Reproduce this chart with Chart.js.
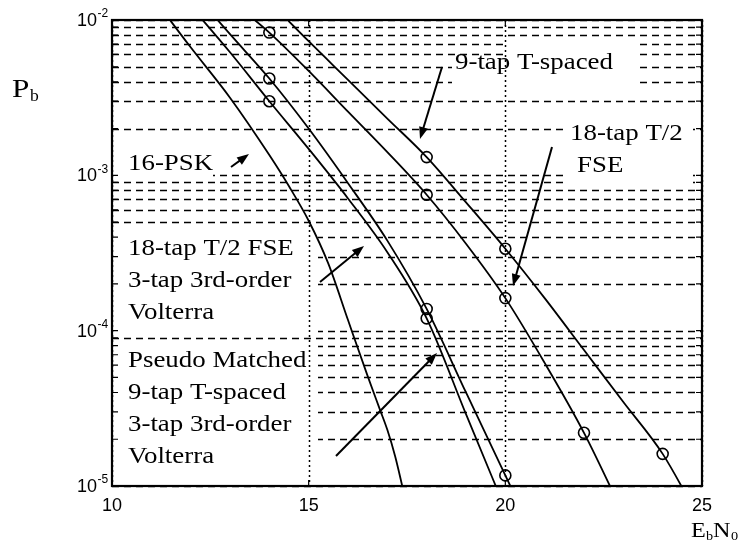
<!DOCTYPE html>
<html>
<head>
<meta charset="utf-8">
<script src="https://cdn.jsdelivr.net/npm/chart.js@4"></script>
<style>
  html, body { margin: 0; padding: 0; background: #fff; }
  #wrap { width: 751px; height: 549px; }
</style>
</head>
<body>
<div id="wrap"><canvas id="berChart" width="751" height="549"></canvas></div>
<script>
// Bit error probability vs Eb/N0 (dB)
const ebn0Psk = [11.3, 11.5, 12, 13, 14, 14.5, 15, 15.5, 16, 16.5, 16.8, 17, 17.2, 17.4];
const pbPsk = [1.15e-2, 9.8e-3, 6.67e-3, 3.16e-3, 1.35e-3, 8.5e-4, 5.1e-4, 2.7e-4, 1.17e-4, 5.1e-5, 3.16e-5, 2.3e-5, 1.55e-5, 9.5e-6];

const ebn0Pseudo = [12, 13, 14, 15, 16, 17, 18, 19, 20];
const pbPseudo = [1.23e-2, 6.2e-3, 3.0e-3, 1.48e-3, 7.1e-4, 3.2e-4, 1.2e-4, 2.9e-5, 7.1e-6];

const ebn0Volterra = [12, 13, 14, 15, 16, 17, 18, 19, 20, 20.3];
const pbVolterra = [1.58e-2, 8.1e-3, 4.2e-3, 2.0e-3, 8.9e-4, 3.8e-4, 1.38e-4, 4.0e-5, 1.17e-5, 8.1e-6];

const ebn0Fse = [13.3, 14, 15, 16, 17, 18, 19, 20, 21, 22, 23];
const pbFse = [1.17e-2, 8.3e-3, 4.7e-3, 2.57e-3, 1.41e-3, 7.5e-4, 3.63e-4, 1.62e-4, 6.2e-5, 2.2e-5, 6.6e-6];

const ebn0TSpaced = [14.2, 15, 16, 17, 18, 19, 20, 21, 22, 23, 24, 24.8];
const pbTSpaced = [1.17e-2, 7.3e-3, 4.12e-3, 2.32e-3, 1.31e-3, 6.7e-4, 3.37e-4, 1.62e-4, 7.5e-5, 3.47e-5, 1.61e-5, 7.1e-6];

// simulated points (circles)
const simPseudoX = [14, 18];
const simPseudoY = [3.0e-3, 1.2e-4];
const simVolterraX = [14, 18, 20];
const simVolterraY = [4.2e-3, 1.38e-4, 1.17e-5];
const simFseX = [14, 18, 20, 22];
const simFseY = [8.3e-3, 7.5e-4, 1.62e-4, 2.2e-5];
const simTSpacedX = [18, 20, 24];
const simTSpacedY = [1.31e-3, 3.37e-4, 1.61e-5];

// axes
const xTicks = [10, 15, 20, 25];
const yDecades = [1e-5, 1e-4, 1e-3, 1e-2];
const yExponents = ['-5', '-4', '-3', '-2'];
const yMantissas = [1, 2, 3, 4, 5, 6, 7, 8, 9];

const yGrid = [];
yDecades.forEach((d, i) => {
  if (i === yDecades.length - 1) { yGrid.push(d); return; }
  yMantissas.forEach(m => yGrid.push(m * d));
});

const toPts = (xs, ys) => xs.map((x, i) => ({ x: x, y: ys[i] }));

const curve = (xs, ys) => ({
  data: toPts(xs, ys),
  borderColor: '#000',
  borderWidth: 1.8,
  pointRadius: 0,
  cubicInterpolationMode: 'monotone',
  fill: false
});

const marks = (xs, ys) => ({
  data: toPts(xs, ys),
  showLine: false,
  pointRadius: 5.5,
  pointBorderWidth: 1.6,
  pointBorderColor: '#000',
  pointBackgroundColor: 'rgba(0,0,0,0)',
  clip: false
});

// white backgrounds behind the text labels (x, y, w, h)
const labelBoxes = [
  [113, 150, 100, 30],
  [113, 228, 205, 106],
  [113, 341, 205, 134],
  [505, 40, 130, 20],
  [452, 60, 183, 30],
  [567, 118, 126, 68]
];

const labelFont = '"Liberation Serif", "Times New Roman", serif';

// text blocks: [text, x, centre y]
const labelLines = [
  ['16-PSK', 128, 162],
  ['18-tap T/2 FSE', 128, 247],
  ['3-tap 3rd-order', 128, 279],
  ['Volterra', 128, 311],
  ['Pseudo Matched', 128, 359],
  ['9-tap T-spaced', 128, 391],
  ['3-tap 3rd-order', 128, 423],
  ['Volterra', 128, 455],
  ['9-tap T-spaced', 455, 61],
  ['18-tap T/2', 570, 132],
  ['FSE', 577, 164]
];

// arrows: [x1, y1, x2, y2]
const arrows = [
  [231, 167, 249, 154],
  [320, 282, 364, 246],
  [336, 456, 437, 353],
  [442, 67, 420, 139],
  [552, 147, 513, 286]
];

function stretchText(ctx, text, x, y, size, stretch, family) {
  ctx.save();
  ctx.translate(x, y);
  ctx.scale(stretch, 1);
  ctx.font = size + 'px ' + family;
  ctx.fillText(text, 0, 0);
  ctx.restore();
}

function drawArrow(ctx, x1, y1, x2, y2) {
  const a = Math.atan2(y2 - y1, x2 - x1);
  const len = 12, half = 4.5;
  const c = Math.cos(a), s = Math.sin(a);
  ctx.beginPath();
  ctx.moveTo(x1, y1);
  ctx.lineTo(x2 - c * len * 0.7, y2 - s * len * 0.7);
  ctx.stroke();
  ctx.beginPath();
  ctx.moveTo(x2, y2);
  ctx.lineTo(x2 - len * c + half * s, y2 - len * s - half * c);
  ctx.lineTo(x2 - len * c - half * s, y2 - len * s + half * c);
  ctx.closePath();
  ctx.fill();
}

const paperLayout = {
  id: 'paperLayout',
  beforeDatasetsDraw(chart) {
    const ctx = chart.ctx;
    const area = chart.chartArea;
    const xs = chart.scales.x;
    const ys = chart.scales.y;
    ctx.save();
    ctx.strokeStyle = '#000';

    // dashed horizontal grid on every decade subdivision
    ctx.lineWidth = 1.6;
    ctx.setLineDash([7, 5]);
    yGrid.forEach(v => {
      const py = Math.round(ys.getPixelForValue(v)) + 0.5;
      ctx.beginPath();
      ctx.moveTo(area.left, py);
      ctx.lineTo(area.right, py);
      ctx.stroke();
    });

    ctx.setLineDash([]);
    ctx.fillStyle = '#fff';
    labelBoxes.forEach(b => ctx.fillRect(b[0], b[1], b[2], b[3]));

    // dotted vertical grid
    ctx.lineWidth = 1.5;
    ctx.setLineDash([2, 3]);
    xTicks.forEach(v => {
      const px = Math.round(xs.getPixelForValue(v)) + 0.5;
      ctx.beginPath();
      ctx.moveTo(px, area.top);
      ctx.lineTo(px, area.bottom);
      ctx.stroke();
    });
    ctx.restore();
  },
  afterDatasetsDraw(chart) {
    const ctx = chart.ctx;
    const area = chart.chartArea;
    const xs = chart.scales.x;
    const ys = chart.scales.y;
    ctx.save();
    ctx.strokeStyle = '#000';
    ctx.fillStyle = '#000';

    // inward ticks
    ctx.lineWidth = 1.2;
    yGrid.forEach(v => {
      const py = ys.getPixelForValue(v);
      ctx.beginPath();
      ctx.moveTo(area.left, py); ctx.lineTo(area.left + 6, py);
      ctx.moveTo(area.right, py); ctx.lineTo(area.right - 6, py);
      ctx.stroke();
    });
    xTicks.forEach(v => {
      const px = xs.getPixelForValue(v);
      ctx.beginPath();
      ctx.moveTo(px, area.bottom); ctx.lineTo(px, area.bottom - 6);
      ctx.moveTo(px, area.top); ctx.lineTo(px, area.top + 6);
      ctx.stroke();
    });

    // frame
    ctx.lineWidth = 2.2;
    ctx.strokeRect(area.left, area.top, area.right - area.left, area.bottom - area.top);

    // y tick labels 10^k
    const sans = '"Liberation Sans", Arial, sans-serif';
    yDecades.forEach((v, i) => {
      const py = ys.getPixelForValue(v);
      ctx.textAlign = 'right';
      ctx.textBaseline = 'middle';
      ctx.font = '18px ' + sans;
      ctx.fillText('10', 97, py + 1);
      ctx.textAlign = 'left';
      ctx.font = '12px ' + sans;
      ctx.fillText(yExponents[i], 97.5, py - 6);
    });

    // axis titles
    ctx.textAlign = 'left';
    ctx.textBaseline = 'alphabetic';
    stretchText(ctx, 'P', 12, 97, 26, 1.2, labelFont);
    stretchText(ctx, 'b', 30, 101, 16, 1.1, labelFont);
    stretchText(ctx, 'E', 691, 537, 21, 1.15, labelFont);
    stretchText(ctx, 'b', 706, 540, 13, 1.1, labelFont);
    stretchText(ctx, 'N', 713, 537, 21, 1.15, labelFont);
    stretchText(ctx, '0', 731, 540, 13, 1.1, labelFont);

    // curve labels
    labelLines.forEach(l => stretchText(ctx, l[0], l[1], l[2] + 8, 24, 1.12, labelFont));

    // arrows
    ctx.lineWidth = 2;
    arrows.forEach(a => drawArrow(ctx, a[0], a[1], a[2], a[3]));
    ctx.restore();
  }
};

new Chart(document.getElementById('berChart'), {
  type: 'line',
  data: {
    datasets: [
      curve(ebn0Psk, pbPsk),
      curve(ebn0Pseudo, pbPseudo),
      curve(ebn0Volterra, pbVolterra),
      curve(ebn0Fse, pbFse),
      curve(ebn0TSpaced, pbTSpaced),
      marks(simPseudoX, simPseudoY),
      marks(simVolterraX, simVolterraY),
      marks(simFseX, simFseY),
      marks(simTSpacedX, simTSpacedY)
    ]
  },
  options: {
    responsive: false,
    animation: false,
    devicePixelRatio: 1,
    layout: { padding: { left: 0, right: 49, top: 20, bottom: 0 } },
    plugins: { legend: { display: false }, tooltip: { enabled: false } },
    scales: {
      x: {
        type: 'linear',
        min: 10,
        max: 25,
        afterBuildTicks: s => { s.ticks = xTicks.map(v => ({ value: v })); },
        afterFit: s => { s.height = 63; },
        grid: { display: false, drawTicks: false },
        border: { display: false },
        ticks: {
          padding: 9,
          color: '#000',
          font: { family: '"Liberation Sans", Arial, sans-serif', size: 18 }
        }
      },
      y: {
        type: 'logarithmic',
        min: 1e-5,
        max: 1e-2,
        afterBuildTicks: s => { s.ticks = yGrid.map(v => ({ value: v })); },
        afterFit: s => { s.width = 112; },
        grid: { display: false, drawTicks: false },
        border: { display: false },
        ticks: { display: false }
      }
    }
  },
  plugins: [paperLayout]
});
</script>
</body>
</html>
